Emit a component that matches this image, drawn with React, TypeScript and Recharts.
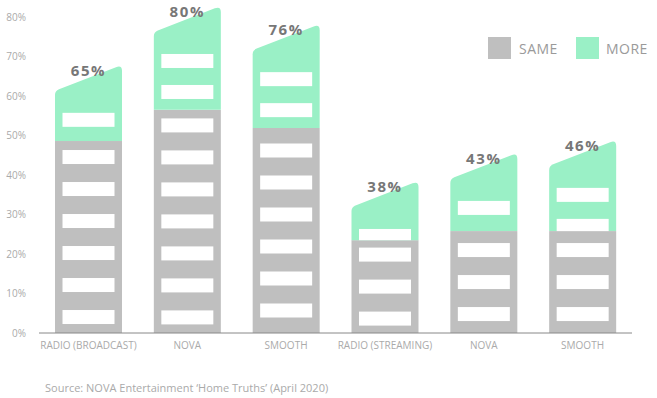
import React from 'react';
import { BarChart, Bar, XAxis, YAxis, LabelList } from 'recharts';

const categories = ['RADIO (BROADCAST)', 'NOVA', 'SMOOTH', 'RADIO (STREAMING)', 'NOVA', 'SMOOTH'];
const sameValues = [48.6, 56.5, 51.9, 23.5, 25.8, 25.8];
const moreValues = [16.0, 23.0, 23.0, 11.7, 16.5, 19.8];
const totalLabels = ['65%', '80%', '76%', '38%', '43%', '46%'];
const yTicks = [0, 10, 20, 30, 40, 50, 60, 70, 80];

const GREY = '#bfbfbf';
const GREEN = '#9af0c6';
const SLANT = 26;

const data = categories.map((name, i) => ({
  name,
  same: sameValues[i],
  more: moreValues[i],
  label: totalLabels[i],
}));

// grey part: plain block with a centred stack of windows
const SameShape = (props: any) => {
  const { x, y, width, height } = props;
  const n = Math.floor((height + 10) / 32);
  const block = n * 14 + (n - 1) * 18;
  const start = y + (height - block) / 2;
  const wins = [];
  for (let i = 0; i < n; i++) {
    wins.push(
      <rect key={i} x={x + 7.5} y={start + i * 32} width={width - 15} height={14} fill="#fff" />
    );
  }
  return (
    <g>
      <rect x={x} y={y} width={width} height={height} fill={GREY} />
      {wins}
    </g>
  );
};

// green part: slanted roof, windows hanging from the roof line
const MoreShape = (props: any) => {
  const { x, y, width, height } = props;
  const bottom = y + height;
  const leftTop = y + SLANT / 2;
  const rightTop = y - SLANT / 2;
  const k = SLANT / width;
  const d = [
    `M${x},${bottom}`,
    `L${x},${leftTop + 4}`,
    `Q${x},${leftTop} ${x + 4},${leftTop - 4 * k}`,
    `L${x + width - 6},${rightTop + 6 * k}`,
    `Q${x + width},${rightTop} ${x + width},${rightTop + 6}`,
    `L${x + width},${bottom}`,
    'Z',
  ].join(' ');
  const wins = [];
  for (let t = leftTop + 22, i = 0; t < bottom - 1; t += 31, i++) {
    wins.push(
      <rect key={i} x={x + 7.5} y={t} width={width - 15} height={Math.min(14, bottom - t)} fill="#fff" />
    );
  }
  return (
    <g>
      <path d={d} fill={GREEN} />
      {wins}
    </g>
  );
};

const renderTotal = (props: any) => {
  const { x, y, width, value } = props;
  return (
    <text
      x={x + width / 2}
      y={y - 8}
      textAnchor="middle"
      dominantBaseline="central"
      fill="#777"
      fontSize={15}
      fontWeight={700}
      letterSpacing={1.6}
      fontFamily="'Open Sans', sans-serif"
    >
      {value}
    </text>
  );
};

export default function App() {
  return (
    <div style={{ position: 'absolute', left: 0, top: 0, width: 657, height: 398, background: '#fff', fontFamily: "'Open Sans', sans-serif" }}>
      <BarChart width={657} height={398} data={data} margin={{ top: 17, right: 25, left: 0, bottom: 35 }}>
        <XAxis
          dataKey="name"
          height={30}
          interval={0}
          tickLine={false}
          tickSize={0}
          tickMargin={9}
          axisLine={{ stroke: '#888' }}
          tick={{ fontSize: 10, fill: '#aaa' }}
        />
        <YAxis
          width={39}
          domain={[0, 80]}
          ticks={yTicks}
          tickFormatter={(v) => `${v}%`}
          axisLine={false}
          tickLine={false}
          tickSize={0}
          tickMargin={13}
          tick={{ fontSize: 10, fill: '#aaa' }}
        />
        <Bar dataKey="same" name="SAME" stackId="a" fill={GREY} barSize={67} shape={SameShape} isAnimationActive={false} />
        <Bar dataKey="more" name="MORE" stackId="a" fill={GREEN} barSize={67} shape={MoreShape} isAnimationActive={false}>
          <LabelList dataKey="label" content={renderTotal} />
        </Bar>
      </BarChart>
      <div style={{ position: 'absolute', left: 488, top: 37, display: 'flex', alignItems: 'center' }}>
        <span style={{ width: 23, height: 22, background: GREY, display: 'inline-block' }} />
        <span style={{ marginLeft: 8, marginRight: 18, fontSize: 14, color: '#9a9a9a', letterSpacing: 0.5 }}>SAME</span>
        <span style={{ width: 23, height: 22, background: GREEN, display: 'inline-block' }} />
        <span style={{ marginLeft: 7, fontSize: 14, color: '#9a9a9a', letterSpacing: 0.5 }}>MORE</span>
      </div>
      <div style={{ position: 'absolute', left: 45, top: 380, fontSize: 11, color: '#aaa' }}>
        Source: NOVA Entertainment ‘Home Truths’ (April 2020)
      </div>
    </div>
  );
}
